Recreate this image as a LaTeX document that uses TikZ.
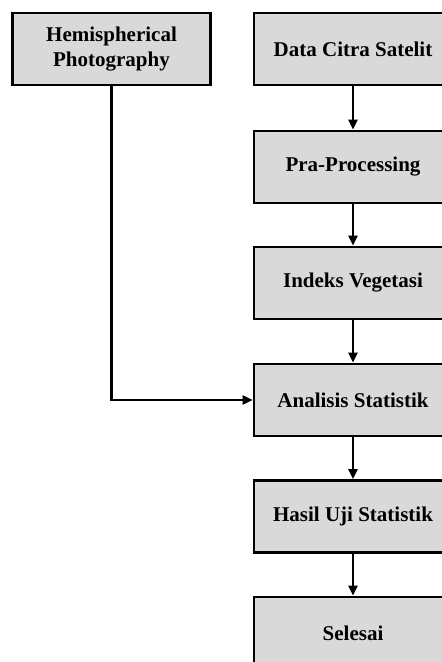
\documentclass[tikz,border=0pt]{standalone}
\usepackage{fontspec}
\setmainfont{Liberation Serif}
\usetikzlibrary{arrows.meta}
\definecolor{boxgray}{HTML}{D9D9D9}
\begin{document}
\begin{tikzpicture}[x=1pt,y=1pt,
  flowbox/.style={draw=black, line width=2.6pt, fill=boxgray, minimum width=198pt, minimum height=72pt, inner sep=0pt, align=center, font=\fontsize{21}{25.5}\selectfont\bfseries},
  flowarrow/.style={draw=black, line width=2.4pt, -{Triangle[width=9pt,length=10pt]}}]
\clip (0,0) rectangle (442,-662);
\fill[white] (0,0) rectangle (442,-662);
\node[flowbox] (hp) at (111.5,-49) {Hemispherical\\Photography};
\node[flowbox] (dcs) at (353,-49) {Data Citra Satelit};
\node[flowbox] (pp) at (353,-167) {Pra-Processing};
\node[flowbox] (iv) at (353,-283) {Indeks Vegetasi};
\node[flowbox] (as) at (353,-400) {Analisis Statistik};
\node[flowbox] (hus) at (353,-516.5) {Hasil Uji Statistik};
\node[flowbox] (sel) at (353,-633) {Selesai};
\draw[flowarrow] (dcs) -- (pp);
\draw[flowarrow] (pp) -- (iv);
\draw[flowarrow] (iv) -- (as);
\draw[flowarrow] (as) -- (hus);
\draw[flowarrow] (hus) -- (sel);
\draw[flowarrow] (hp.south) |- (as.west);
\end{tikzpicture}
\end{document}
